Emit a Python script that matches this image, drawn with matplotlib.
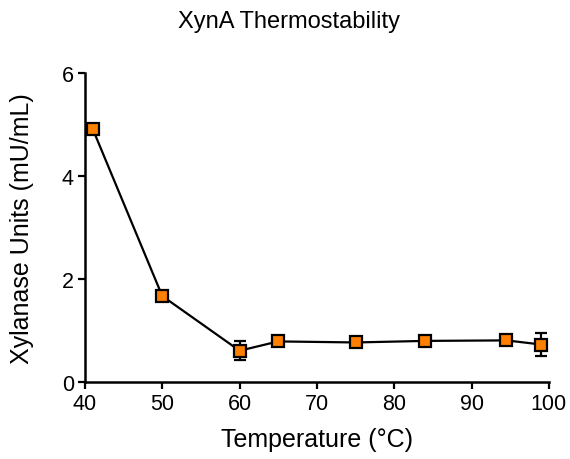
import matplotlib.pyplot as plt
import numpy as np

plt.rcParams['font.family'] = ['Liberation Sans', 'DejaVu Sans']

temperature = [41, 50, 60, 65, 75, 84, 94.5, 99]
units = [4.91, 1.67, 0.61, 0.79, 0.77, 0.80, 0.81, 0.73]
err = [0.08, 0.10, 0.18, 0.05, 0.07, 0.09, 0.05, 0.22]

fig = plt.figure(figsize=(5.7, 4.6), dpi=100)
ax = fig.add_axes([0.149, 0.167, 0.814, 0.673])

ax.errorbar(temperature, units, yerr=err, color='black', lw=1.6,
            ecolor='black', elinewidth=1.6, capsize=4, capthick=1.6,
            marker='s', markersize=8, markerfacecolor='#ff8000',
            markeredgecolor='black', markeredgewidth=1.6, zorder=3)

ax.set_xlim(40, 100)
ax.set_ylim(0, 6)
ax.set_xticks([40, 50, 60, 70, 80, 90, 100])
ax.set_yticks([0, 2, 4, 6])
for s in ['top', 'right']:
    ax.spines[s].set_visible(False)
for s in ['left', 'bottom']:
    ax.spines[s].set_linewidth(1.8)
ax.tick_params(width=1.6, length=5, labelsize=15.5, direction='out', pad=3)

fig.text(0.507, 0.952, 'XynA Thermostability', fontsize=17,
         ha='center', va='center')
ax.set_xlabel('Temperature (°C)', fontsize=18)
ax.set_ylabel('Xylanase Units (mU/mL)', fontsize=18)
ax.xaxis.set_label_coords(0.5, -0.145)
ax.yaxis.set_label_coords(-0.11, 0.5)

fig.savefig('out.png', dpi=100)
